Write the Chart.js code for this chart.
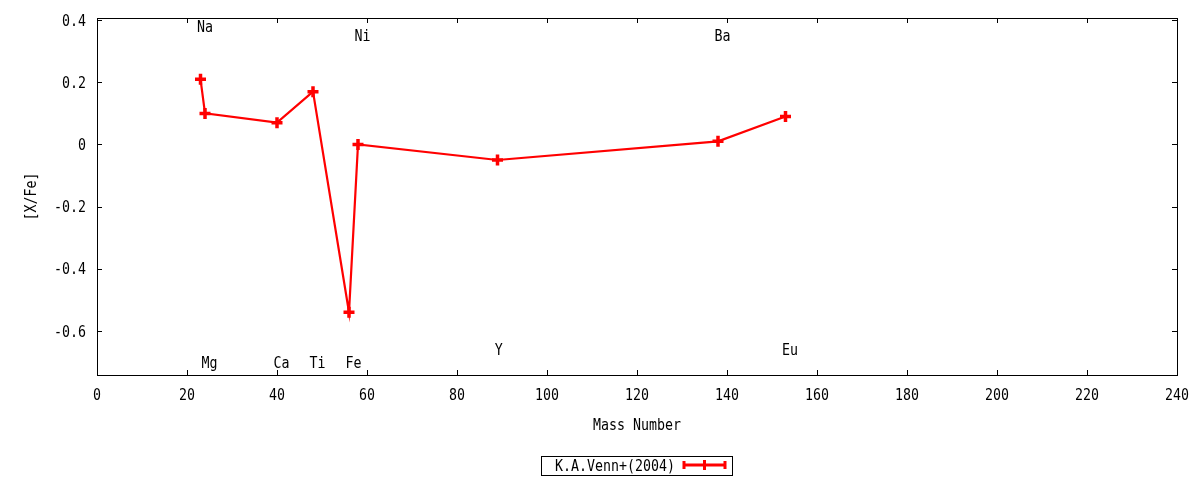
<!DOCTYPE html>
<html>
<head>
<meta charset="utf-8">
<script src="https://cdn.jsdelivr.net/npm/chart.js@4"></script>
<style>
  html, body { margin: 0; padding: 0; background: #fff; }
  #wrap { width: 1200px; height: 480px; }
</style>
</head>
<body>
<div id="wrap"><canvas id="chart" width="1200" height="480"></canvas></div>
<script>
// Daten
const massNumber = [23, 24, 40, 48, 56, 58, 89, 138, 153];
const xFe = [0.21, 0.10, 0.07, 0.17, -0.54, 0.00, -0.05, 0.01, 0.09];
const seriesName = 'K.A.Venn+(2004)';

// Element-Beschriftungen (in Datenkoordinaten)
const elemNames = ['Na', 'Mg', 'Ca', 'Ti', 'Fe', 'Ni', 'Y', 'Ba', 'Eu'];
const labelX = [24, 25, 41, 49, 57, 59, 89.3, 139, 154];
const labelY = [0.38, -0.70, -0.70, -0.70, -0.70, 0.35, -0.66, 0.35, -0.66];

const xTicks = [0, 20, 40, 60, 80, 100, 120, 140, 160, 180, 200, 220, 240];
const yTicks = [-0.6, -0.4, -0.2, 0, 0.2, 0.4];

const FONT = '16px "DejaVu Sans Mono", monospace';
const SQUEEZE = 0.83; // schmale Schrift wie bei gnuplot
const RED = '#ff0000';

// Text horizontal gestaucht zeichnen (leicht nach unten versetzt)
function drawText(ctx, text, x, y, align) {
  ctx.save();
  ctx.translate(x, y + 1.5);
  ctx.scale(SQUEEZE, 1);
  ctx.textAlign = align || 'center';
  ctx.textBaseline = 'middle';
  ctx.fillText(text, 0, 0);
  ctx.restore();
}

// Rahmen, Ticks nach innen, Beschriftungen und Legende
const gnuplotLook = {
  id: 'gnuplotLook',
  afterDraw(chart) {
    const ctx = chart.ctx;
    const a = chart.chartArea;
    const xs = chart.scales.x;
    const ys = chart.scales.y;
    ctx.save();

    // Rahmen
    ctx.strokeStyle = '#000';
    ctx.lineWidth = 1;
    ctx.strokeRect(a.left + 0.5, a.top + 0.5, a.right - a.left, a.bottom - a.top);

    // Ticks
    ctx.beginPath();
    xTicks.forEach(v => {
      const px = Math.round(xs.getPixelForValue(v)) + 0.5;
      ctx.moveTo(px, a.bottom); ctx.lineTo(px, a.bottom - 5);
      ctx.moveTo(px, a.top); ctx.lineTo(px, a.top + 5);
    });
    yTicks.forEach(v => {
      const py = Math.round(ys.getPixelForValue(v)) + 0.5;
      ctx.moveTo(a.left, py); ctx.lineTo(a.left + 5, py);
      ctx.moveTo(a.right, py); ctx.lineTo(a.right - 5, py);
    });
    ctx.stroke();

    ctx.fillStyle = '#000';
    ctx.font = FONT;

    // Tick-Beschriftungen
    xTicks.forEach(v => drawText(ctx, String(v), xs.getPixelForValue(v), 394, 'center'));
    yTicks.forEach(v => drawText(ctx, String(Math.round(v * 10) / 10), 86, ys.getPixelForValue(v), 'right'));

    // Achsentitel
    drawText(ctx, 'Mass Number', (a.left + a.right) / 2, 424, 'center');
    ctx.save();
    ctx.translate(32, (a.top + a.bottom) / 2);
    ctx.rotate(-Math.PI / 2);
    drawText(ctx, '[X/Fe]', 0, -1.5, 'center');
    ctx.restore();

    // Element-Labels
    elemNames.forEach((name, i) => {
      drawText(ctx, name, xs.getPixelForValue(labelX[i]), ys.getPixelForValue(labelY[i]), 'center');
    });

    // Legende
    ctx.strokeRect(541.5, 456.5, 191, 19);
    drawText(ctx, seriesName, 675, 465, 'right');
    ctx.strokeStyle = RED;
    ctx.lineWidth = 3;
    ctx.beginPath();
    ctx.moveTo(683, 465); ctx.lineTo(726, 465);
    ctx.moveTo(684, 461); ctx.lineTo(684, 469);
    ctx.moveTo(725, 461); ctx.lineTo(725, 469);
    ctx.moveTo(704.5, 460); ctx.lineTo(704.5, 470);
    ctx.moveTo(699.5, 465); ctx.lineTo(709.5, 465);
    ctx.stroke();

    ctx.restore();
  }
};

const points = massNumber.map((m, i) => ({ x: m, y: xFe[i] }));

new Chart(document.getElementById('chart').getContext('2d'), {
  type: 'line',
  data: {
    datasets: [{
      label: seriesName,
      data: points,
      borderColor: RED,
      backgroundColor: RED,
      borderWidth: 2.2,
      pointStyle: 'cross',
      pointRadius: 5.5,
      pointBorderWidth: 3.5,
      pointHoverRadius: 5.5,
      tension: 0,
      fill: false
    }]
  },
  options: {
    responsive: false,
    animation: false,
    layout: { padding: { left: 0, right: 23, top: 18, bottom: 0 } },
    plugins: {
      legend: { display: false },
      tooltip: { enabled: false }
    },
    scales: {
      x: {
        type: 'linear',
        min: 0,
        max: 240,
        grid: { display: false },
        border: { display: false },
        afterBuildTicks: s => { s.ticks = xTicks.map(v => ({ value: v })); },
        afterFit: s => { s.height = 105; },
        ticks: { display: false }
      },
      y: {
        type: 'linear',
        min: -0.742,
        max: 0.407,
        grid: { display: false },
        border: { display: false },
        afterBuildTicks: s => { s.ticks = yTicks.map(v => ({ value: v })); },
        afterFit: s => { s.width = 97; },
        ticks: { display: false }
      }
    }
  },
  plugins: [gnuplotLook]
});
</script>
</body>
</html>
